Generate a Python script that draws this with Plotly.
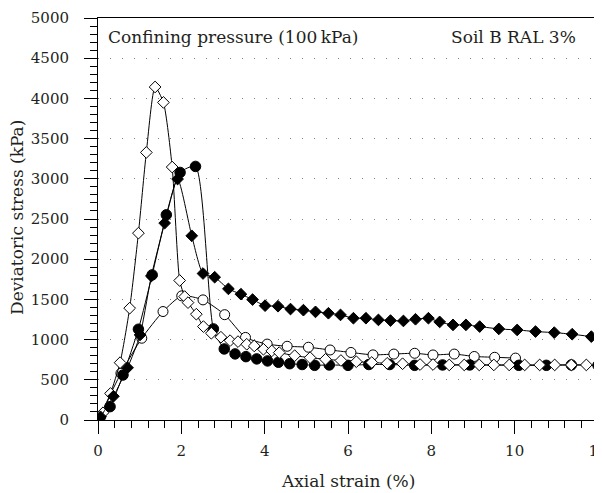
import plotly.graph_objects as go

# Open diamonds
od_x = [0, 0.12, 0.3, 0.53, 0.76, 0.97, 1.16, 1.37, 1.57, 1.78, 1.96, 2.08, 2.16, 2.36, 2.53, 2.72, 2.95,
        3.17, 3.36, 3.57, 3.75, 3.97, 4.17, 4.35, 4.72, 5.09, 5.46, 5.83, 6.2, 6.57, 6.94, 7.31, 7.73,
        8.04, 8.43, 8.79, 9.15, 9.5, 9.87, 10.24, 10.6, 10.96, 11.36, 11.72]
od_y = [0, 90, 330, 713, 1391, 2324, 3328, 4142, 3950, 3146, 1735, 1535, 1460, 1316, 1162, 1079, 1030,
        987, 975, 942, 921, 880, 859, 838, 800, 775, 755, 740, 725, 715, 705, 700, 690,
        690, 685, 685, 685, 685, 685, 685, 685, 685, 685, 685]

# Filled circles
fc_x = [0, 0.06, 0.29, 0.6, 0.97, 1.3, 1.64, 1.97, 2.34, 2.77, 3.03, 3.29, 3.55, 3.81, 4.07, 4.33,
        4.6, 4.9, 5.2, 5.55, 6.0, 6.5, 7.0, 7.6, 8.27, 8.92, 10.1, 10.76, 11.36, 12.0]
fc_y = [0, 41, 166, 560, 1129, 1805, 2552, 3079, 3154, 1133, 884, 822, 788, 760, 735, 718,
        700, 690, 680, 685, 680, 690, 690, 680, 685, 685, 680, 680, 685, 680]

# Filled diamonds
fd_x = [0, 0.06, 0.37, 0.71, 1.01, 1.28, 1.6, 1.91, 2.25, 2.52, 2.8, 3.13, 3.43, 3.71, 4.01, 4.32,
        4.62, 4.93, 5.22, 5.53, 5.82, 6.13, 6.43, 6.73, 7.02, 7.33, 7.62, 7.93, 8.2, 8.52, 8.83,
        9.16, 9.62, 10.06, 10.5, 10.95, 11.38, 11.84]
fd_y = [0, 40, 295, 650, 1058, 1790, 2449, 2997, 2291, 1822, 1776, 1631, 1565, 1498, 1422, 1415,
        1380, 1366, 1345, 1328, 1307, 1266, 1266, 1245, 1237, 1232, 1253, 1266, 1220, 1183, 1183,
        1162, 1133, 1120, 1100, 1087, 1067, 1037]

# Open circles
oc_x = [0, 0.55, 1.05, 1.56, 2.01, 2.52, 3.04, 3.54, 4.06, 4.54, 5.05, 5.57, 6.07, 6.6, 7.1, 7.6,
        8.04, 8.55, 9.03, 9.52, 10.02]
oc_y = [0, 581, 1017, 1349, 1544, 1494, 1310, 1027, 944, 917, 905, 871, 840, 810, 820, 830,
        809, 820, 790, 780, 770]

x_ticks = [0, 2, 4, 6, 8, 10, 12]
y_ticks = [0, 500, 1000, 1500, 2000, 2500, 3000, 3500, 4000, 4500, 5000]

FONT = "DejaVu Serif"
TXT = "#231f20"
fig = go.Figure()

def add(x, y, symbol, fill, size):
    fig.add_trace(go.Scatter(
        x=x, y=y, mode="lines+markers",
        line=dict(color="black", width=1, shape="spline", smoothing=0.6),
        marker=dict(symbol=symbol, size=size, color=fill,
                    line=dict(color="black", width=1)),
        showlegend=False))

add(oc_x, oc_y, "circle", "white", 10)
add(fc_x, fc_y, "circle", "black", 10.5)
add(od_x, od_y, "diamond", "white", 9)
add(fd_x, fd_y, "diamond", "black", 9)

# the page body has an 8px margin, so the figure is 8px smaller than the window
W, H = 594, 485
ML, MR, MT, MB = 90, 4, 10, 73
pw, ph = W - ML - MR, H - MT - MB
OX, OY = 8 + ML, 8 + MT  # plot-area origin in window pixels

def px(x):
    return (x - OX) / pw

def py(y):
    return (OY + ph - y) / ph

fig.update_layout(
    width=W, height=H,
    margin=dict(l=ML, r=MR, t=MT, b=MB),
    paper_bgcolor="white", plot_bgcolor="white",
    font=dict(family=FONT, size=15, color=TXT),
    xaxis=dict(range=[0, 12], tickvals=x_ticks, ticktext=[str(v) for v in x_ticks],
               showline=True, linecolor="black", linewidth=1, mirror=True,
               ticks="outside", ticklen=13, tickcolor="black", tickfont=dict(size=15),
               ticklabelstandoff=4, ticklabeloverflow="allow",
               minor=dict(dtick=0.4, tick0=0, ticks="outside", ticklen=7, tickcolor="black"),
               showgrid=False, zeroline=False, automargin=False),
    yaxis=dict(range=[0, 5000], tickvals=y_ticks, ticktext=[str(v) for v in y_ticks],
               showline=True, linecolor="black", linewidth=1, mirror=True,
               ticks="outside", ticklen=13, tickcolor="black", tickfont=dict(size=15),
               ticklabelstandoff=12, ticklabeloverflow="allow",
               minor=dict(dtick=100, tick0=0, ticks="outside", ticklen=7, tickcolor="black"),
               showgrid=True, gridcolor="#808080", gridwidth=1, griddash="1px,11px",
               zeroline=False, automargin=False),
    annotations=[
        dict(text="Confining pressure (100\u2009kPa)", x=px(106), y=py(37), xref="paper", yref="paper",
             xanchor="left", yanchor="middle", showarrow=False, font=dict(size=17)),
        dict(text="Soil B RAL 3%", x=px(578), y=py(37), xref="paper", yref="paper",
             xanchor="right", yanchor="middle", showarrow=False, font=dict(size=17)),
        dict(text="Axial strain (%)", x=px(348), y=py(481), xref="paper", yref="paper",
             xanchor="center", yanchor="middle", showarrow=False, font=dict(size=17)),
        dict(text="Deviatoric stress (kPa)", x=px(17), y=py(218), xref="paper", yref="paper",
             xanchor="center", yanchor="middle", textangle=-90, showarrow=False,
             font=dict(size=17)),
    ],
)

fig.write_html("out.html")
